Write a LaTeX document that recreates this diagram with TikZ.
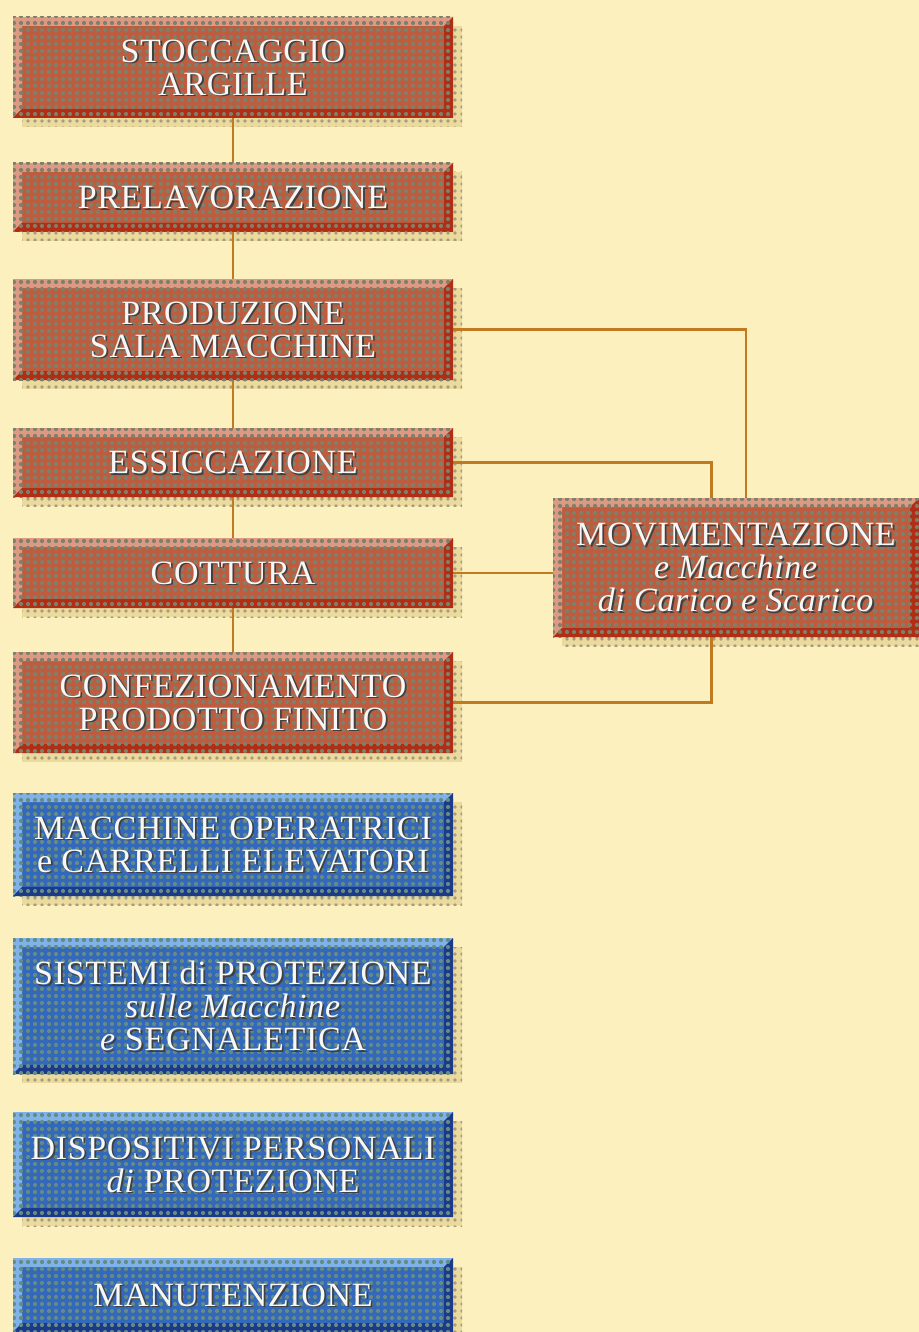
\documentclass[tikz,border=0pt]{standalone}
\usepackage{fontspec}
\setmainfont{Liberation Serif}[LetterSpace=2]
\usetikzlibrary{fit,calc,patterns.meta}
\pgfdeclarelayer{shadowl}
\pgfdeclarelayer{connl}
\pgfsetlayers{shadowl,connl,main}
\definecolor{bgc}{HTML}{FCF1BE}
\definecolor{brface}{HTML}{BE5C40}
\definecolor{brdot}{HTML}{7E806A}
\definecolor{brlight}{HTML}{DC9A84}
\definecolor{brdark}{HTML}{B02E16}
\definecolor{blface}{HTML}{3468BA}
\definecolor{bldot}{HTML}{648C84}
\definecolor{bllight}{HTML}{80B2EA}
\definecolor{bldark}{HTML}{1C3A8A}
\definecolor{shc}{HTML}{EADA9E}
\definecolor{shdot}{HTML}{A89C7C}
\definecolor{conncol}{HTML}{C07A20}
\tikzset{
  txt/.style={text=white!94!gray, font=\fontsize{17}{16.5}\selectfont, align=center, inner sep=0pt},
  txtsh/.style={txt, text=black!75},
  connector/.style={draw=conncol, line width=1.4pt},
}
\newcommand{\bevbox}[6]{%
  \begin{pgfonlayer}{shadowl}
    \fill[shc] (#2+9,#3+9) rectangle (#4+9,#5+9);
    \fill[pattern={Dots[radius=0.9pt,distance=3.5pt]},pattern color=shdot] (#2+9,#3+9) rectangle (#4+9,#5+9);
  \end{pgfonlayer}
  \fill[#6face] (#2,#3) rectangle (#4,#5);
  \fill[#6light] (#2,#3) -- (#4,#3) -- (#4-9,#3+9) -- (#2+9,#3+9) -- (#2+9,#5-9) -- (#2,#5) -- cycle;
  \fill[#6dark] (#4,#3) -- (#4,#5) -- (#2,#5) -- (#2+9,#5-9) -- (#4-9,#5-9) -- (#4-9,#3+9) -- cycle;
  \fill[pattern={Dots[radius=1.05pt,distance=3.5pt]},pattern color=#6dot] (#2,#3) rectangle (#4,#5);
  \node[fit={(#2,#3)(#4,#5)},inner sep=0pt] (#1) {};
}
\newcommand{\boxtext}[2]{%
  \node[txtsh] at ([xshift=0.9pt,yshift=-0.9pt]#1.center) {#2};
  \node[txt] at (#1.center) {#2};
}
\begin{document}
\begin{tikzpicture}[x=0.5pt,y=-0.5pt]
\begin{pgfonlayer}{shadowl}
  \fill[bgc] (0,0) rectangle (919,1332);
\end{pgfonlayer}
\useasboundingbox (0,0) rectangle (919,1332);

\bevbox{stock}{13}{17}{453}{118}{br}
\boxtext{stock}{STOCCAGGIO\\ARGILLE}
\bevbox{prel}{13}{163}{453}{232}{br}
\boxtext{prel}{PRELAVORAZIONE}
\bevbox{prod}{13}{279}{453}{380}{br}
\boxtext{prod}{PRODUZIONE\\SALA MACCHINE}
\bevbox{ess}{13}{428}{453}{497}{br}
\boxtext{ess}{ESSICCAZIONE}
\bevbox{cott}{13}{538}{453}{608}{br}
\boxtext{cott}{COTTURA}
\bevbox{conf}{13}{652}{453}{753}{br}
\boxtext{conf}{CONFEZIONAMENTO\\PRODOTTO FINITO}
\bevbox{mov}{553}{498}{919}{637}{br}
\boxtext{mov}{MOVIMENTAZIONE\\\textit{e Macchine}\\\textit{di Carico e Scarico}}

\bevbox{mac}{13}{793}{453}{896}{bl}
\boxtext{mac}{MACCHINE OPERATRICI\\e CARRELLI ELEVATORI}
\bevbox{sist}{13}{938}{453}{1074}{bl}
\boxtext{sist}{SISTEMI di PROTEZIONE\\\textit{sulle Macchine}\\\textit{e} SEGNALETICA}
\bevbox{disp}{13}{1112}{453}{1217}{bl}
\boxtext{disp}{DISPOSITIVI PERSONALI\\\textit{di} PROTEZIONE}
\bevbox{manu}{13}{1258}{453}{1332}{bl}
\boxtext{manu}{MANUTENZIONE}

\begin{pgfonlayer}{connl}
  \draw[connector] (stock) -- (prel);
  \draw[connector] (prel) -- (prod);
  \draw[connector] (prod) -- (ess);
  \draw[connector] (ess) -- (cott);
  \draw[connector] (cott) -- (conf);
  \draw[connector] (prod.east) -| ($(mov.north west)!0.527!(mov.north east)$);
  \draw[connector] (ess.east) -| ($(mov.north west)!0.434!(mov.north east)$);
  \draw[connector] (cott.east) -- (cott.east -| mov.west);
  \draw[connector] (conf.east) -| ($(mov.south west)!0.434!(mov.south east)$);
\end{pgfonlayer}
\end{tikzpicture}
\end{document}
